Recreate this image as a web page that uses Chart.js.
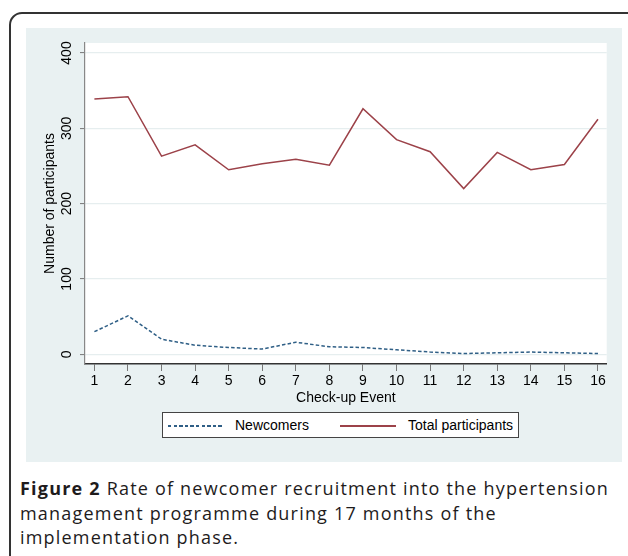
<!DOCTYPE html>
<html><head><meta charset="utf-8">
<script src="https://cdn.jsdelivr.net/npm/chart.js@4.4.0/dist/chart.umd.min.js"></script>
<style>
html,body{margin:0;padding:0;width:628px;height:556px;overflow:hidden;background:#fff;}
#frame{position:absolute;left:9px;top:12px;width:660px;height:600px;border:2px solid #333;border-radius:13px;box-sizing:border-box;}
#panel{position:absolute;left:26px;top:28px;width:596px;height:434px;background:#e9f1f2;}
#chart{position:absolute;left:0;top:0;}
#legend{position:absolute;left:162px;top:412px;width:357px;height:26px;box-sizing:border-box;border:1px solid #444;background:#fff;font:14px "Liberation Sans",Arial,sans-serif;color:#000;}
#legend .s{position:absolute;top:12px;height:1.5px;width:56px;}
#legend .t{position:absolute;top:4px;line-height:16px;white-space:nowrap;}
#caption{position:absolute;left:20px;top:476px;font-family:"Open Sans",sans-serif;font-size:18px;letter-spacing:1.2px;line-height:24.5px;color:#1e1b1c;white-space:nowrap;}
#caption b{font-weight:700;}
</style></head>
<body>
<div id="frame"></div>
<div id="panel"><canvas id="chart" width="596" height="434"></canvas></div>
<div id="legend">
  <div class="s" style="left:5px;background:repeating-linear-gradient(to right,#2f5f86 0 3.5px,transparent 3.5px 5.6px);"></div>
  <div class="t" style="left:72px;">Newcomers</div>
  <div class="s" style="left:177px;background:#9c4249;"></div>
  <div class="t" style="left:245px;">Total participants</div>
</div>
<div id="caption"><b>Figure 2</b> Rate of newcomer recruitment into the hypertension<br>management programme during 17 months of the<br>implementation phase.</div>
<script>
const events = [1,2,3,4,5,6,7,8,9,10,11,12,13,14,15,16];
const newcomers = [30,51,20,12,9,7,16,10,9,6,3,1,2,3,2,1];
const totalParticipants = [339,342,263,278,245,253,259,251,326,285,269,220,268,245,252,312];
const yTicks = [0,100,200,300,400];

Chart.defaults.font.family = '"Liberation Sans", Arial, sans-serif';
Chart.defaults.font.size = 14;
Chart.defaults.color = '#000';

const plotBg = {
  id:'plotBg',
  beforeDraw(chart){
    const {ctx, chartArea:a} = chart;
    ctx.save(); ctx.fillStyle = '#ffffff';
    ctx.fillRect(a.left, a.top, a.right-a.left, a.bottom-a.top);
    ctx.restore();
  }
};

new Chart(document.getElementById('chart'), {
  type:'line',
  data:{
    datasets:[
      {label:'Newcomers', data:events.map((e,i)=>({x:e,y:newcomers[i]})), borderColor:'#2f5f86', borderWidth:1.5, borderDash:[3.5,2.2], pointRadius:0, tension:0, fill:false},
      {label:'Total participants', data:events.map((e,i)=>({x:e,y:totalParticipants[i]})), borderColor:'#9c4249', borderWidth:1.5, pointRadius:0, tension:0, fill:false}
    ]
  },
  options:{
    responsive:false, devicePixelRatio:1, animation:false,
    layout:{padding:{left:0,top:15,right:15.3,bottom:0}},
    plugins:{legend:{display:false}, tooltip:{enabled:false}},
    scales:{
      x:{type:'linear', min:0.72, max:16.26,
        afterFit(s){s.height=98;},
        afterBuildTicks(s){s.ticks = events.map(v=>({value:v}));},
        ticks:{autoSkip:false, maxRotation:0, padding:2, color:'#000', font:{size:14}},
        grid:{drawOnChartArea:false, drawTicks:true, tickLength:7, tickColor:'#777', tickWidth:1},
        border:{color:'#333', width:1.5},
        title:{display:true, text:'Check-up Event', color:'#000', font:{size:14}, padding:{top:0,bottom:55.6}}
      },
      y:{type:'linear', min:-12.9, max:413.3,
        afterFit(s){s.width=59;},
        afterBuildTicks(s){s.ticks = yTicks.map(v=>({value:v}));},
        ticks:{minRotation:90, maxRotation:90, crossAlign:'center', padding:1.6, color:'#000', font:{size:14}},
        grid:{color:'#e6eeef', lineWidth:1.2, tickLength:5, tickColor:'#777', tickWidth:1},
        border:{color:'#888', width:1.2},
        title:{display:true, text:'Number of participants', color:'#000', font:{size:14}, padding:{top:15.6,bottom:0}}
      }
    }
  },
  plugins:[plotBg]
});
</script>
</body></html>
